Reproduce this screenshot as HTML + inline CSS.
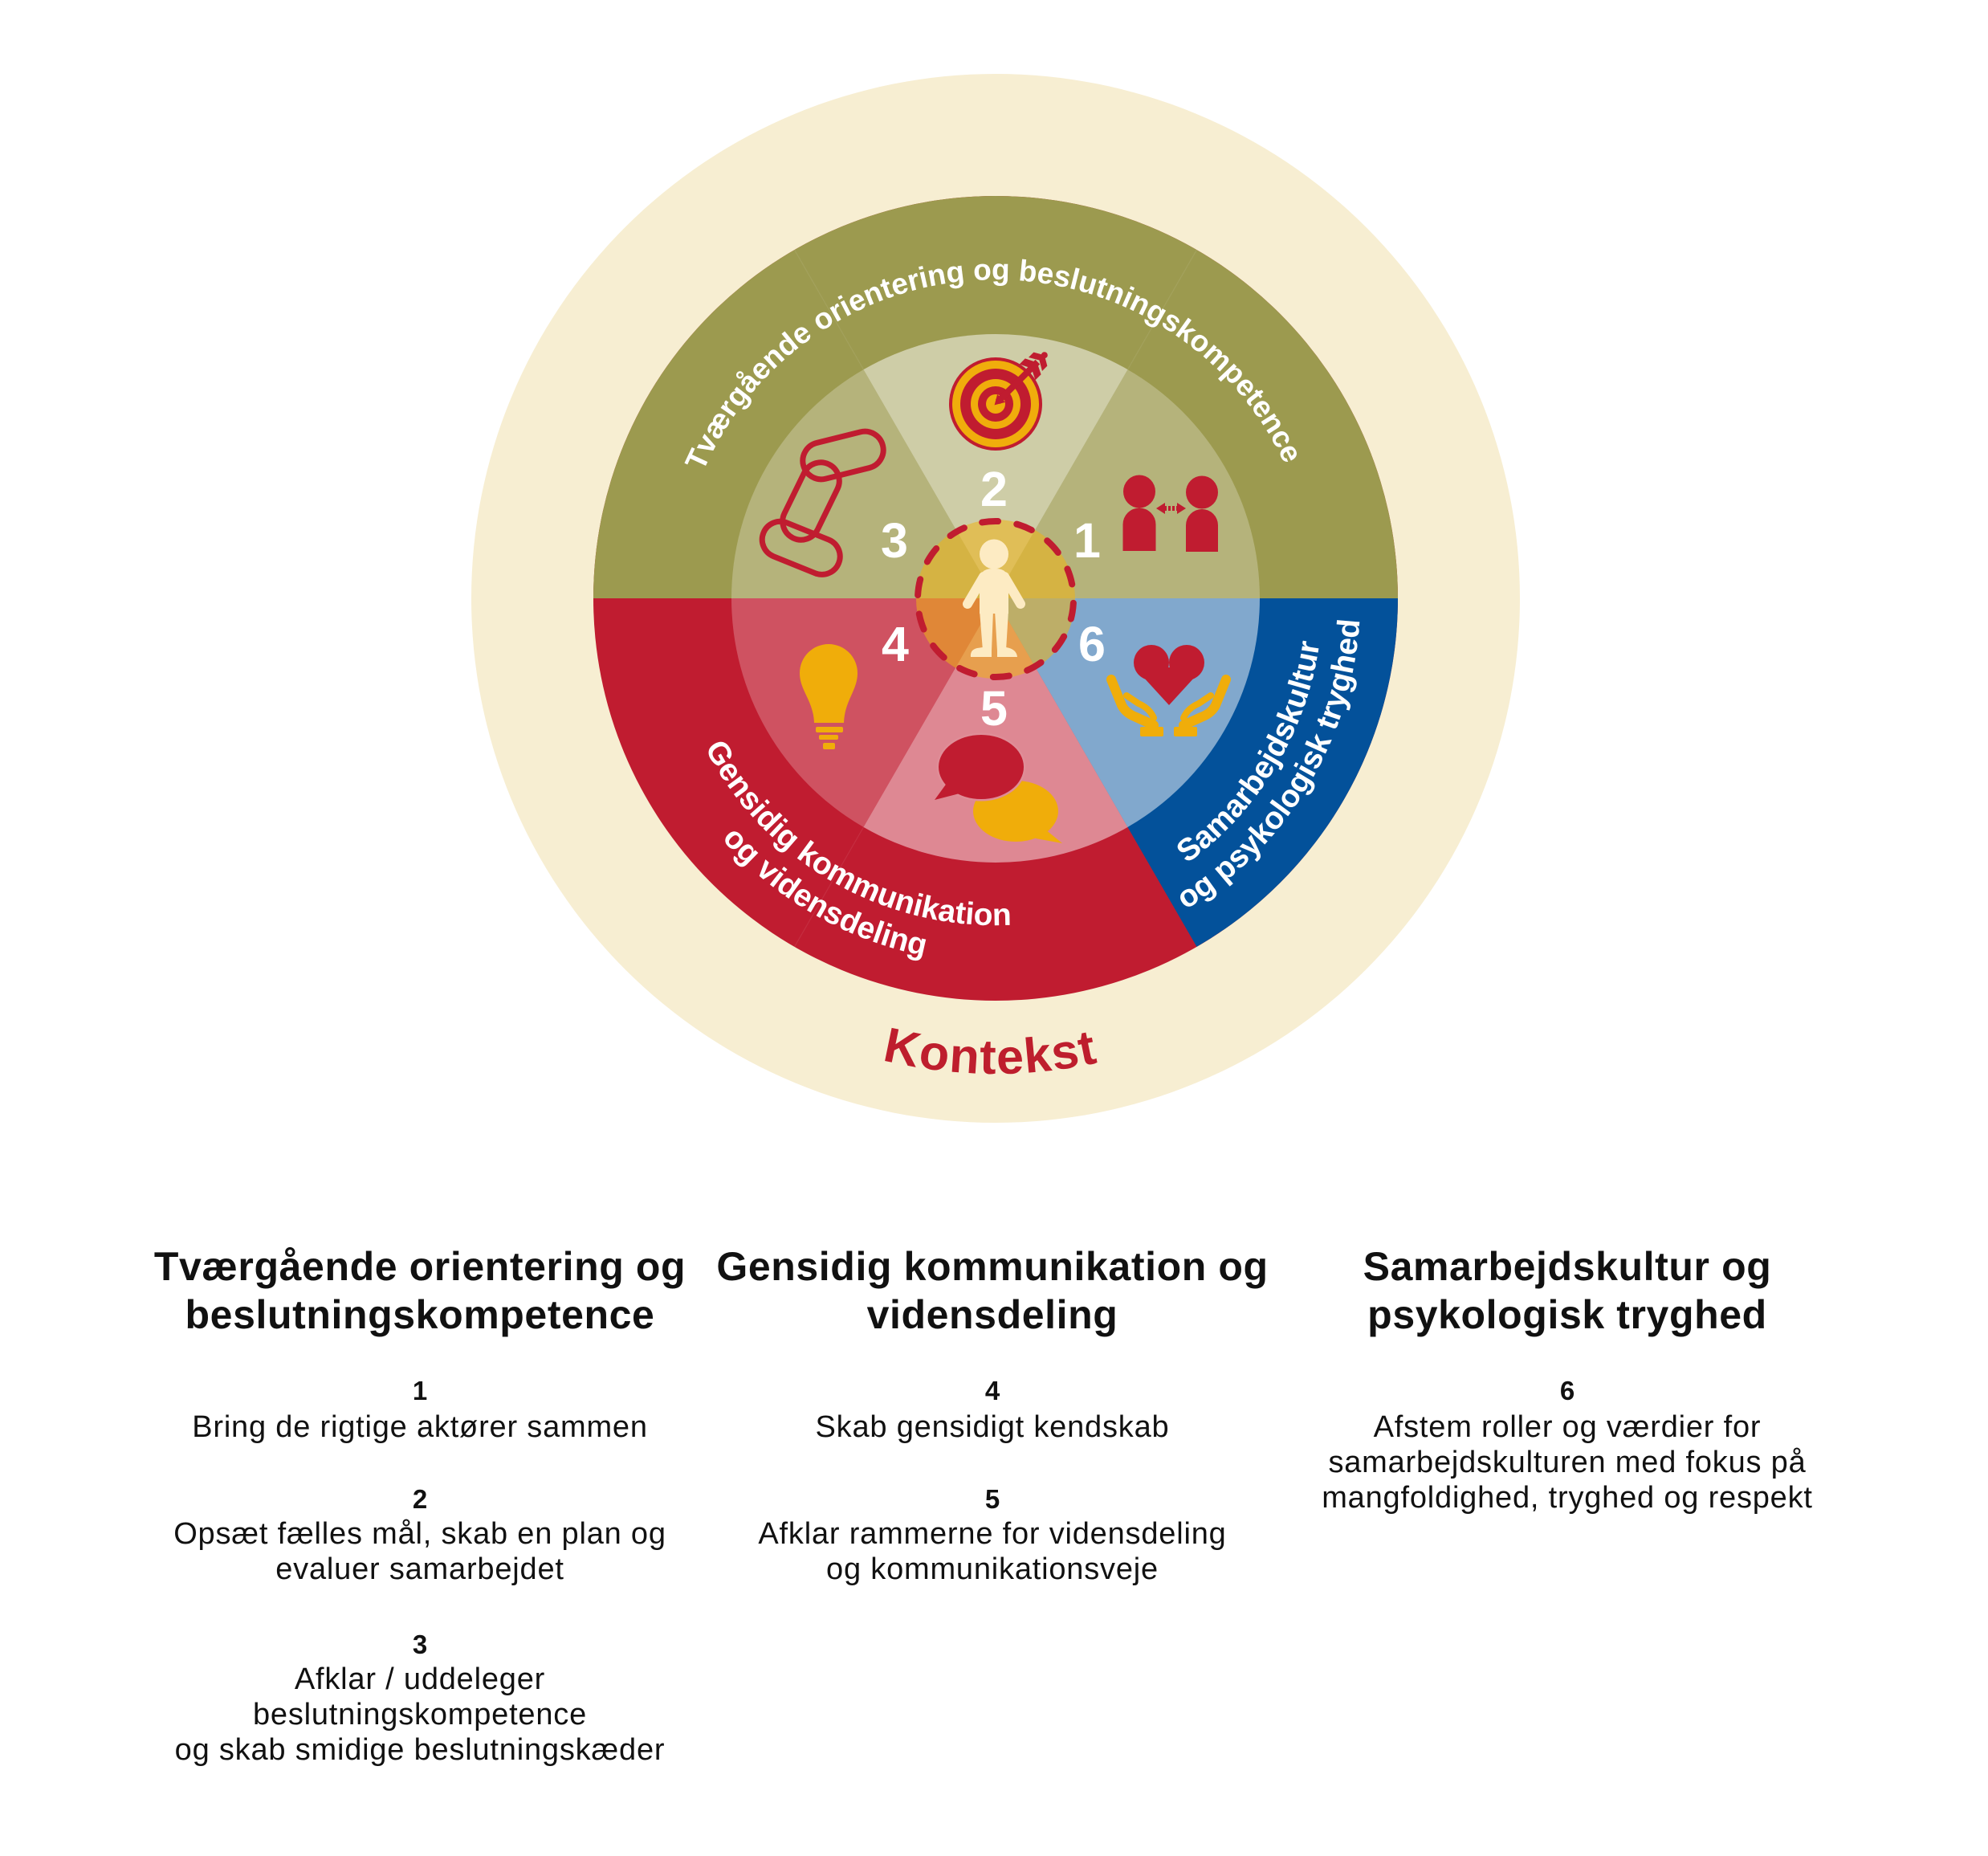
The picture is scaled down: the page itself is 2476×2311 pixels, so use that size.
<!DOCTYPE html>
<html>
<head>
<meta charset="utf-8">
<style>
html,body{margin:0;padding:0;background:#ffffff;}
svg{display:block;}
</style>
</head>
<body>
<svg width="2476" height="2311" viewBox="0 0 2476 2311" xmlns="http://www.w3.org/2000/svg" font-family="'Liberation Sans', Arial, sans-serif">
<defs>
  <path id="pTop" d="M843 745 A397 397 0 0 1 1637 745"/>
  <path id="pRed1" d="M857.5 605.8 A407 407 0 0 0 1551.8 1006.6"/>
  <path id="pRed2" d="M813.4 589.7 A454 454 0 0 0 1587.8 1036.8"/>
  <path id="pBlue1" d="M1094.1 1125 A407 407 0 0 0 1507 437.8"/>
  <path id="pBlue2" d="M1077.3 1168.9 A454 454 0 0 0 1537.9 402.4"/>
  <path id="pKon" d="M657 847.8 A592 592 0 0 0 1823 847.8"/>
</defs>

<rect width="2476" height="2311" fill="#ffffff"/>

<!-- outer cream -->
<circle cx="1240" cy="745" r="653" fill="#f7eed2"/>

<!-- mid ring -->
<circle cx="1240" cy="745" r="501" fill="#c01c30"/>
<path d="M739 745 A501 501 0 0 1 1741 745 Z" fill="#9c9a4f"/>
<path d="M1240 745 L1741 745 A501 501 0 0 1 1490.5 1178.9 Z" fill="#03519a"/>

<!-- seams -->
<g stroke="#ffffff" stroke-opacity="0.08" stroke-width="1.2">
  <line x1="1404.5" y1="460.1" x2="1490.5" y2="311.1"/>
  <line x1="1075.5" y1="460.1" x2="989.5" y2="311.1"/>
  <line x1="1075.5" y1="1029.9" x2="989.5" y2="1178.9"/>
</g>

<!-- inner wedges (white overlays) -->
<g fill="#ffffff">
  <path d="M1240 745 L1569 745 A329 329 0 0 0 1404.5 460.1 Z" fill-opacity="0.25"/>
  <path d="M1240 745 L1404.5 460.1 A329 329 0 0 0 1075.5 460.1 Z" fill-opacity="0.5"/>
  <path d="M1240 745 L1075.5 460.1 A329 329 0 0 0 911 745 Z" fill-opacity="0.25"/>
  <path d="M1240 745 L911 745 A329 329 0 0 0 1075.5 1029.9 Z" fill-opacity="0.24"/>
  <path d="M1240 745 L1075.5 1029.9 A329 329 0 0 0 1404.5 1029.9 Z" fill-opacity="0.48"/>
  <path d="M1240 745 L1404.5 1029.9 A329 329 0 0 0 1569 745 Z" fill-opacity="0.5"/>
</g>

<!-- curved ring labels -->
<g fill="#ffffff" font-weight="bold">
  <text font-size="37"><textPath href="#pTop" startOffset="49.6%" text-anchor="middle">Tværgående orientering og beslutningskompetence</textPath></text>
  <text font-size="39"><textPath href="#pRed1" startOffset="50%" text-anchor="middle">Gensidig kommunikation</textPath></text>
  <text font-size="39"><textPath href="#pRed2" startOffset="50%" text-anchor="middle">og vidensdeling</textPath></text>
  <text font-size="39"><textPath href="#pBlue1" startOffset="50%" text-anchor="middle">Samarbejdskultur</textPath></text>
  <text font-size="39"><textPath href="#pBlue2" startOffset="50%" text-anchor="middle">og psykologisk tryghed</textPath></text>
</g>

<!-- Kontekst -->
<text font-size="61" font-weight="bold" fill="#be1e2d" letter-spacing="1.5"><textPath href="#pKon" startOffset="49.6%" text-anchor="middle">Kontekst</textPath></text>

<!-- Target icon (2) -->
<g>
  <circle cx="1240" cy="503" r="58" fill="#c01c30"/>
  <circle cx="1240" cy="503" r="54" fill="#f0ad0c"/>
  <circle cx="1240" cy="503" r="44" fill="#c01c30"/>
  <circle cx="1240" cy="503" r="31" fill="#f0ad0c"/>
  <circle cx="1240" cy="503" r="22" fill="#c01c30"/>
  <circle cx="1240" cy="503" r="12" fill="#f0ad0c"/>
  <g transform="rotate(-45 1240 503)" fill="#c01c30">
    <rect x="1244" y="499" width="70" height="8"/>
    <polygon points="1238,503 1250,496 1250,510"/>
    <polygon points="1296,489 1306,489 1313,503 1306,517 1296,517 1303,503"/>
    <polygon points="1310,491 1319,491 1326,503 1319,515 1310,515 1317,503"/>
    <circle cx="1326" cy="503" r="4"/>
  </g>
</g>

<!-- Two people icon (1) -->
<g fill="#c01c30">
  <ellipse cx="1419" cy="612" rx="20" ry="20.5"/>
  <path d="M1398.5 686 V653 A20.5 20.5 0 0 1 1439.5 653 V686 Z"/>
  <ellipse cx="1497" cy="613" rx="20" ry="20.5"/>
  <path d="M1477 687 V654 A20 20 0 0 1 1517 654 V687 Z"/>
  <polygon points="1440,633 1451,626 1451,640"/>
  <polygon points="1477,633 1466,626 1466,640"/>
  <line x1="1450" y1="633" x2="1467" y2="633" stroke="#c01c30" stroke-width="6" stroke-dasharray="3 2"/>
</g>

<!-- Chain icon (3) -->
<g fill="none" stroke="#c01c30" stroke-width="7">
  <rect x="999" y="544" width="102" height="46" rx="23" ry="23" transform="rotate(-14 1050 567)"/>
  <rect x="959" y="601" width="102" height="46" rx="23" ry="23" transform="rotate(-64 1010 624)"/>
  <rect x="947" y="660" width="101" height="45" rx="22.5" ry="22.5" transform="rotate(22 998 683)"/>
</g>

<!-- Lightbulb icon (4) -->
<g fill="#f0ad0a">
  <path d="M996 838 A36 36 0 1 1 1068 838 C1068 860 1052 872 1051 900 L1014 900 C1013 872 996 860 996 838 Z"/>
  <rect x="1016" y="905" width="34" height="7" rx="2"/>
  <rect x="1020" y="915" width="24" height="6" rx="2"/>
  <rect x="1025" y="925" width="15" height="8" rx="2"/>
</g>

<!-- Speech bubbles (5) -->
<g>
  <ellipse cx="1265" cy="1010" rx="53" ry="38" fill="#f0ad0a"/>
  <polygon points="1296,1028 1323,1050 1290,1044" fill="#f0ad0a"/>
  <ellipse cx="1222" cy="955" rx="53" ry="40" fill="#c01c30" stroke="#df8d97" stroke-width="5"/>
  <ellipse cx="1222" cy="955" rx="53" ry="40" fill="#c01c30"/>
  <polygon points="1180,974 1164,996 1195,988" fill="#c01c30"/>
</g>

<!-- Heart + hands (6) -->
<g fill="#c01c30">
  <circle cx="1434" cy="825" r="22"/>
  <circle cx="1478" cy="825" r="22"/>
  <polygon points="1413,831 1499,831 1456,878"/>
</g>
<g fill="none" stroke="#f0ad0a" stroke-linecap="round" stroke-linejoin="round">
  <path d="M1384 846 L1397 878 Q1402 888 1415 893 L1437 903" stroke-width="12"/>
  <path d="M1403 866 L1418 876 Q1432 882 1437 894" stroke-width="8"/>
  <rect x="1420" y="905" width="29" height="12" rx="2" fill="#f0ad0a" stroke="none"/>
</g>
<g transform="translate(2911 0) scale(-1 1)" fill="none" stroke="#f0ad0a" stroke-linecap="round" stroke-linejoin="round">
  <path d="M1384 846 L1397 878 Q1402 888 1415 893 L1437 903" stroke-width="12"/>
  <path d="M1403 866 L1418 876 Q1432 882 1437 894" stroke-width="8"/>
  <rect x="1420" y="905" width="29" height="12" rx="2" fill="#f0ad0a" stroke="none"/>
</g>

<!-- Numbers in circle -->
<g fill="#ffffff" font-weight="bold" font-size="61" text-anchor="middle">
  <text x="1238" y="630">2</text>
  <text x="1114" y="694">3</text>
  <text x="1354" y="694">1</text>
  <text x="1115" y="823">4</text>
  <text x="1360" y="823">6</text>
  <text x="1238" y="903">5</text>
</g>

<!-- Center circle -->
<circle cx="1240" cy="746" r="99" fill="#efb216" fill-opacity="0.55"/>

<!-- Person -->
<g fill="#fdebc3">
  <ellipse cx="1238" cy="690" rx="18" ry="18.5"/>
  <path d="M1220 764 V724 Q1220 708 1236 708 H1240 Q1256 708 1256 724 V764 Z"/>
  <line x1="1225" y1="718" x2="1205" y2="752" stroke="#fdebc3" stroke-width="12" stroke-linecap="round"/>
  <line x1="1251" y1="718" x2="1271" y2="752" stroke="#fdebc3" stroke-width="12" stroke-linecap="round"/>
  <path d="M1220 760 H1237 L1235 810 H1224 Z"/>
  <path d="M1239 760 H1256 L1253 810 H1242 Z"/>
  <path d="M1224 806 H1235 V818 H1209 Q1208 809 1217 807 Z"/>
  <path d="M1242 806 H1253 Q1266 808 1267 818 H1242 Z"/>
</g>

<!-- dashed ring -->
<circle cx="1240" cy="746" r="97" fill="none" stroke="#c01c30" stroke-width="8" stroke-dasharray="20 23.53" stroke-linecap="round" transform="rotate(-100 1240 746)"/>

<!-- Bottom text columns -->
<g fill="#111111" text-anchor="middle">
  <g font-weight="bold" font-size="50" letter-spacing="0.6">
    <text x="523" y="1594">Tværgående orientering og</text>
    <text x="523" y="1654">beslutningskompetence</text>
    <text x="1236" y="1594">Gensidig kommunikation og</text>
    <text x="1236" y="1654">vidensdeling</text>
    <text x="1952" y="1594">Samarbejdskultur og</text>
    <text x="1952" y="1654">psykologisk tryghed</text>
  </g>
  <g font-weight="bold" font-size="33">
    <text x="523" y="1743">1</text>
    <text x="523" y="1878">2</text>
    <text x="523" y="2059">3</text>
    <text x="1236" y="1743">4</text>
    <text x="1236" y="1878">5</text>
    <text x="1952" y="1743">6</text>
  </g>
  <g font-size="38" letter-spacing="0.8">
    <text x="523" y="1789">Bring de rigtige aktører sammen</text>
    <text x="523" y="1922">Opsæt fælles mål, skab en plan og</text>
    <text x="523" y="1966">evaluer samarbejdet</text>
    <text x="523" y="2103">Afklar / uddeleger</text>
    <text x="523" y="2147">beslutningskompetence</text>
    <text x="523" y="2191">og skab smidige beslutningskæder</text>
    <text x="1236" y="1789">Skab gensidigt kendskab</text>
    <text x="1236" y="1922">Afklar rammerne for vidensdeling</text>
    <text x="1236" y="1966">og kommunikationsveje</text>
    <text x="1952" y="1789">Afstem roller og værdier for</text>
    <text x="1952" y="1833">samarbejdskulturen med fokus på</text>
    <text x="1952" y="1877">mangfoldighed, tryghed og respekt</text>
  </g>
</g>
</svg>
</body>
</html>
